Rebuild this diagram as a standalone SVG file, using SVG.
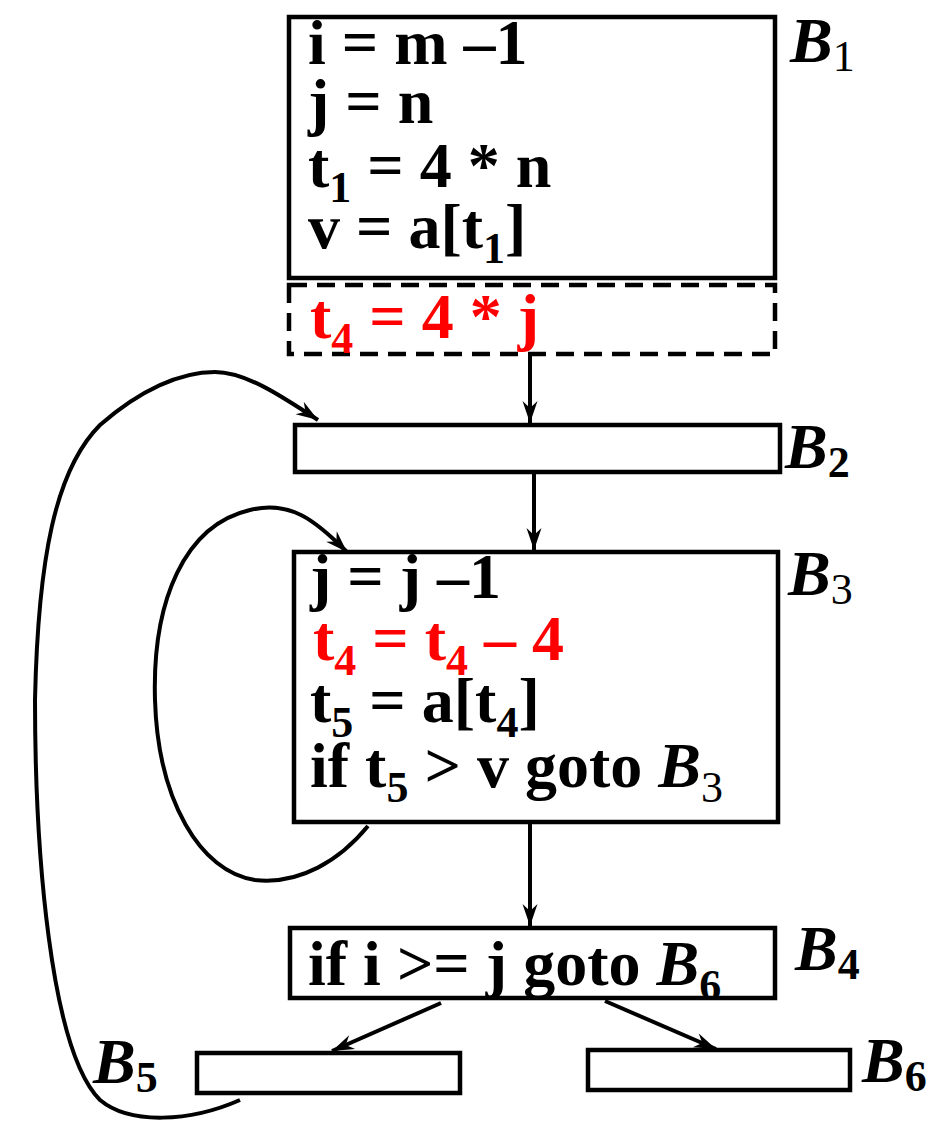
<svg xmlns="http://www.w3.org/2000/svg" width="932" height="1121" viewBox="0 0 932 1121">
<style>
.box{fill:none;stroke:#000;stroke-width:4.5}
.dash{fill:none;stroke:#000;stroke-width:4.5;stroke-dasharray:18 10}
.t{font-family:"Liberation Serif","Times New Roman",serif;font-weight:bold;font-size:64px;fill:#000}
.r{fill:#ff0000}
.sub{font-size:44px}
.bi{font-style:italic}
.lbl{font-family:"Liberation Serif","Times New Roman",serif;font-weight:bold;font-size:64px;fill:#000}
.edge{fill:none;stroke:#000;stroke-width:4}
</style>
<defs>
<marker id="ah" viewBox="-24 -9 26 18" refX="0" refY="0" markerWidth="26" markerHeight="18" markerUnits="userSpaceOnUse" orient="auto">
<path d="M-22,-7.5 L0,0 L-22,7.5 L-15,0 z" fill="#000"/>
</marker>
</defs>
<g id="B1">
<text class="t" x="308" y="64">i = m –1</text>
<text class="t" x="308" y="123">j = n</text>
<text class="t" x="308" y="187">t<tspan class="sub" dy="15">1</tspan><tspan dy="-15"> = 4 * n</tspan></text>
<text class="t" x="308" y="248">v = a[t<tspan class="sub" dy="15">1</tspan><tspan dy="-15">]</tspan></text>
<rect class="box" x="289" y="17" width="486" height="261"/>
<text class="lbl" x="790" y="62"><tspan class="bi">B</tspan><tspan class="sub" font-weight="normal" dy="9">1</tspan></text>
</g>
<g id="hoist">
<rect class="dash" x="289" y="285" width="486" height="69"/>
<text class="t r" x="310" y="338">t<tspan class="sub" dy="15">4</tspan><tspan dy="-15"> = 4 * j</tspan></text>
</g>
<g id="B2">
<rect class="box" x="295" y="425" width="485" height="47"/>
<text class="lbl" x="785" y="468"><tspan class="bi">B</tspan><tspan class="sub" dy="9">2</tspan></text>
</g>
<g id="B3">
<text class="t" x="310" y="598">j = j –1</text>
<text class="t r" x="313" y="660">t<tspan class="sub" dy="15">4</tspan><tspan dy="-15"> = t</tspan><tspan class="sub" dy="15">4</tspan><tspan dy="-15"> – 4</tspan></text>
<text class="t" x="310" y="722">t<tspan class="sub" dy="15">5</tspan><tspan dy="-15"> = a[t</tspan><tspan class="sub" dy="15">4</tspan><tspan dy="-15">]</tspan></text>
<text class="t" x="310" y="787">if t<tspan class="sub" dy="15">5</tspan><tspan dy="-15"> &gt; v goto </tspan><tspan class="bi">B</tspan><tspan class="sub" font-weight="normal" dy="15">3</tspan></text>
<rect class="box" x="294" y="552" width="484" height="270"/>
<text class="lbl" x="788" y="595"><tspan class="bi">B</tspan><tspan class="sub" font-weight="normal" dy="9">3</tspan></text>
</g>
<g id="B4">
<text class="t" x="308" y="985">if i &gt;= j goto <tspan class="bi">B</tspan><tspan class="sub" dy="15">6</tspan></text>
<rect class="box" x="290" y="928" width="485" height="70"/>
<text class="lbl" x="795" y="970"><tspan class="bi">B</tspan><tspan class="sub" dy="9">4</tspan></text>
</g>
<g id="B5">
<rect class="box" x="197" y="1053" width="263" height="40"/>
<text class="lbl" x="93" y="1083"><tspan class="bi">B</tspan><tspan class="sub" dy="9">5</tspan></text>
</g>
<g id="B6">
<rect class="box" x="588" y="1050" width="262" height="40"/>
<text class="lbl" x="862" y="1082"><tspan class="bi">B</tspan><tspan class="sub" dy="9">6</tspan></text>
</g>
<g id="connectors">
<line class="edge" x1="530" y1="354" x2="530" y2="423" marker-end="url(#ah)"/>
<line class="edge" x1="534" y1="473" x2="534" y2="550" marker-end="url(#ah)"/>
<line class="edge" x1="530" y1="823" x2="530" y2="926" marker-end="url(#ah)"/>
<line class="edge" x1="441" y1="1003" x2="332" y2="1051" marker-end="url(#ah)"/>
<line class="edge" x1="605" y1="1001" x2="716" y2="1049" marker-end="url(#ah)"/>
<path class="edge" d="M368,826 C340,860 300,885 255,880 C200,872 158,800 155,700 C152,600 185,525 250,510 C290,500 315,520 347,552" marker-end="url(#ah)"/>
<path class="edge" d="M240,1100 C190,1122 130,1125 100,1100 C50,1050 35,850 35,700 C38,560 55,470 100,425 C140,390 180,372 215,372 C245,372 280,395 318,420" marker-end="url(#ah)"/>
</g>
</svg>
